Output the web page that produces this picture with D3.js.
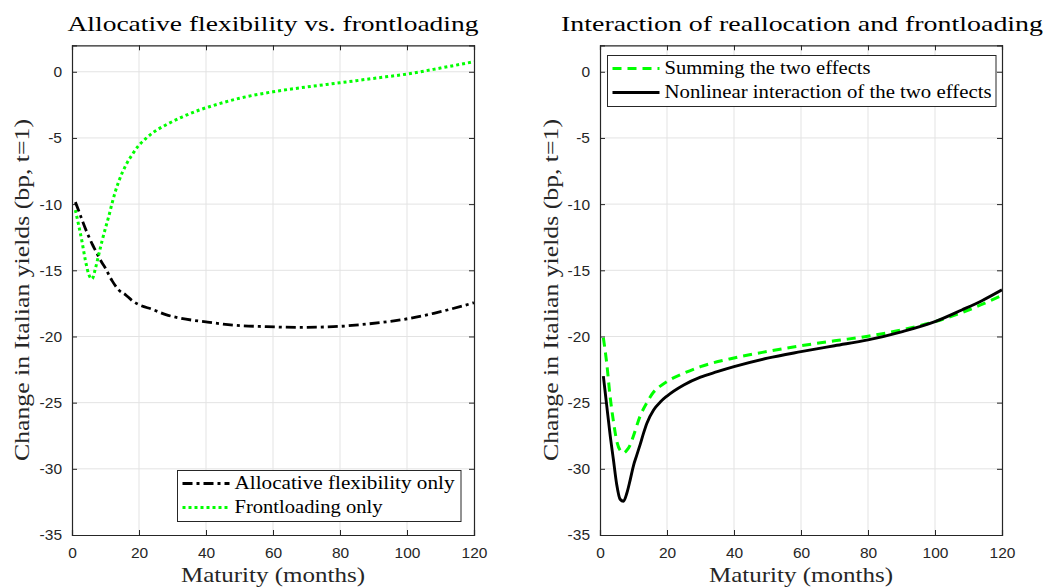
<!DOCTYPE html>
<html><head><meta charset="utf-8">
<script src="https://cdn.jsdelivr.net/npm/d3@7"></script>
<style>body{margin:0;background:#fff}svg{display:block}</style>
</head><body>
<svg id="c" width="1046" height="587"></svg>
<script>
// ---- data ----
const xTicks = [0, 20, 40, 60, 80, 100, 120];
const yTicks = [0, -5, -10, -15, -20, -25, -30, -35];

const allocMonths = [1,2,3,4,5,6,7,8,9,10,11,12,14,16,18,20,24,28,32,40,48,58,68,78,88,98,108,120];
const allocValues = [-9.85,-10.5,-11.2,-11.85,-12.45,-13.0,-13.5,-14.0,-14.45,-14.85,-15.35,-15.8,-16.5,-16.85,-17.3,-17.6,-17.95,-18.35,-18.6,-18.9,-19.14,-19.26,-19.31,-19.26,-19.06,-18.75,-18.25,-17.45];

const frontMonths = [1,2,3,4,5,6,7,8,9,10,11,12,13,14,16,18,20,22,24,28,33,38,41,50,60,70,80,90,100,110,120];
const frontValues = [-10.45,-11.6,-12.85,-14.25,-15.3,-15.65,-14.85,-13.8,-12.75,-11.8,-10.9,-9.9,-9.0,-8.25,-7.1,-6.25,-5.55,-5.05,-4.63,-4.02,-3.4,-2.89,-2.64,-2.0,-1.51,-1.15,-0.83,-0.5,-0.17,0.28,0.76];

const sumMonths = [1,2,3,4,5,6,7,8,9,10,12,14,16,18,20,25,30,40,50,60,70,80,90,100,110,120];
const sumValues = [-20.1,-22.0,-24.5,-26.4,-27.9,-28.6,-28.8,-28.6,-28.2,-27.5,-26.0,-25.0,-24.2,-23.75,-23.4,-22.78,-22.28,-21.62,-21.13,-20.7,-20.33,-19.98,-19.5,-18.88,-18.0,-16.9];

const nonlinMonths = [1,2,3,4,5,6,7,8,9,10,11,12,13,14,16,18,20,25,30,35,40,50,60,70,80,90,100,108,114,120];
const nonlinValues = [-23.0,-25.2,-27.4,-29.3,-31.2,-32.3,-32.45,-31.85,-30.85,-29.75,-28.95,-28.15,-27.3,-26.55,-25.55,-24.95,-24.5,-23.66,-23.07,-22.66,-22.28,-21.64,-21.15,-20.7,-20.26,-19.65,-18.88,-18.0,-17.3,-16.48];

const titles = ["Allocative flexibility vs. frontloading", "Interaction of reallocation and frontloading"];
const xLabel = "Maturity (months)";
const yLabel = "Change in Italian yields (bp, t=1)";
const legendLeft = ["Allocative flexibility only", "Frontloading only"];
const legendRight = ["Summing the two effects", "Nonlinear interaction of the two effects"];

// ---- drawing ----
const svg = d3.select("#c");
const AX = "#262626", GRID = "#e3e3e3", GREEN = "#00ff00";
const serif = "'Liberation Serif', 'DejaVu Serif', serif";
const sans = "'Liberation Sans', Arial, sans-serif";

const panels = [
  {x0: 72, x1: 474, title: titles[0], titleW: 411, ylabX: 22,
   series: [
     {m: allocMonths, v: allocValues, color: "#000", dash: "10,4,3,4", w: 2.8},
     {m: frontMonths, v: frontValues, color: GREEN, dash: "3,3", w: 3}
   ],
   legend: {x: 177.5, y: 470.5, w: 283.5, h: 51, items: legendLeft, widths: [220, 148]}},
  {x0: 600, x1: 1002, title: titles[1], titleW: 482, ylabX: 551,
   series: [
     {m: sumMonths, v: sumValues, color: GREEN, dash: "9,6", w: 3},
     {m: nonlinMonths, v: nonlinValues, color: "#000", dash: null, w: 2.9}
   ],
   legend: {x: 607.5, y: 55.5, w: 388.5, h: 51, items: legendRight, widths: [206, 327]}}
];

const yTop = 45.3, yBot = 535;

panels.forEach((p, pi) => {
  const x = d3.scaleLinear().domain([0, 120]).range([p.x0, p.x1]);
  const y = d3.scaleLinear().domain([-35, 2]).range([yBot, yTop]);
  const g = svg.append("g");
  const cx = (p.x0 + p.x1) / 2;

  // grid
  g.append("g").selectAll("line").data(xTicks.slice(1, -1)).join("line")
    .attr("x1", d => x(d)).attr("x2", d => x(d)).attr("y1", yTop).attr("y2", yBot)
    .attr("stroke", GRID).attr("stroke-width", 1);
  g.append("g").selectAll("line").data(yTicks.slice(0, -1)).join("line")
    .attr("y1", d => y(d)).attr("y2", d => y(d)).attr("x1", p.x0).attr("x2", p.x1)
    .attr("stroke", GRID).attr("stroke-width", 1);

  // axes via d3 axis (ticks inward)
  const bottom = d3.axisBottom(x).tickValues(xTicks).tickSize(-5).tickPadding(12).tickFormat(d3.format("d"));
  const top = d3.axisTop(x).tickValues(xTicks).tickSize(-5).tickFormat("");
  const left = d3.axisLeft(y).tickValues(yTicks).tickSize(-5).tickPadding(10).tickFormat(d => d === 0 ? "0" : String(d));
  const right = d3.axisRight(y).tickValues(yTicks).tickSize(-5).tickFormat("");
  const styleAxis = sel => {
    sel.selectAll(".domain").attr("stroke", AX).attr("stroke-width", 1.2);
    sel.selectAll(".tick line").attr("stroke", AX).attr("stroke-width", 1);
    sel.selectAll("text").attr("fill", AX).attr("font-family", sans).attr("font-size", 15.5);
  };
  g.append("g").attr("transform", `translate(0,${yBot})`).call(bottom).call(styleAxis);
  g.append("g").attr("transform", `translate(0,${yTop})`).call(top).call(styleAxis);
  g.append("g").attr("transform", `translate(${p.x0},0)`).call(left).call(styleAxis);
  g.append("g").attr("transform", `translate(${p.x1},0)`).call(right).call(styleAxis);

  // lines
  const clipId = "clip" + pi;
  svg.append("clipPath").attr("id", clipId).append("rect")
    .attr("x", p.x0).attr("y", yTop).attr("width", p.x1 - p.x0).attr("height", yBot - yTop);
  const line = d3.line().x(d => x(d[0])).y(d => y(d[1])).curve(d3.curveMonotoneX);
  p.series.forEach(s => {
    g.append("path").datum(s.m.map((m, i) => [m, s.v[i]]))
      .attr("d", line).attr("fill", "none").attr("stroke", s.color)
      .attr("stroke-width", s.w).attr("stroke-dasharray", s.dash)
      .attr("stroke-linejoin", "round")
      .attr("clip-path", `url(#${clipId})`);
  });

  // title
  g.append("text").attr("x", cx + (pi === 1 ? 1 : 0)).attr("y", 31).attr("text-anchor", "middle")
    .attr("font-family", serif).attr("font-size", 22).attr("fill", "#000")
    .attr("textLength", p.titleW).attr("lengthAdjust", "spacingAndGlyphs").text(p.title);
  // x label
  g.append("text").attr("x", cx).attr("y", 582).attr("text-anchor", "middle")
    .attr("font-family", serif).attr("font-size", 21).attr("fill", AX)
    .attr("textLength", 184).attr("lengthAdjust", "spacingAndGlyphs").text(xLabel);
  // y label
  g.append("text").attr("transform", `translate(${p.ylabX + 7},290) rotate(-90)`)
    .attr("text-anchor", "middle")
    .attr("font-family", serif).attr("font-size", 21).attr("fill", AX)
    .attr("textLength", 342).attr("lengthAdjust", "spacingAndGlyphs").text(yLabel);

  // legend
  const L = p.legend;
  const lg = g.append("g");
  lg.append("rect").attr("x", L.x).attr("y", L.y).attr("width", L.w).attr("height", L.h)
    .attr("fill", "#fff").attr("stroke", AX).attr("stroke-width", 1);
  L.items.forEach((t, i) => {
    const s = p.series[i];
    const yy = L.y + 13 + i * 24;
    lg.append("line").attr("x1", L.x + 5).attr("x2", L.x + 52).attr("y1", yy).attr("y2", yy)
      .attr("stroke", s.color).attr("stroke-width", s.w).attr("stroke-dasharray", s.dash);
    lg.append("text").attr("x", L.x + 57).attr("y", yy + 5.5)
      .attr("font-family", serif).attr("font-size", 18).attr("fill", "#000")
      .attr("textLength", L.widths[i]).attr("lengthAdjust", "spacingAndGlyphs").text(t);
  });
});
</script>
</body></html>
